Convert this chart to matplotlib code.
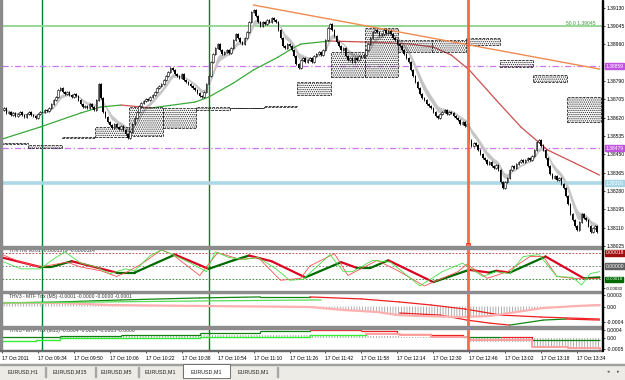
import numpy as np
import pandas as pd
import matplotlib
matplotlib.use("Agg")
import matplotlib.pyplot as plt
from matplotlib.patches import Rectangle
import matplotlib.transforms as mtransforms

plt.rcParams['font.family'] = ['Liberation Sans', 'DejaVu Sans']
plt.rcParams['hatch.linewidth'] = 0.6

W, H = 625, 380

# EURUSD M1 closes, 17 Oct 2011, first bar 09:18
closes = [
    1.38656, 1.38665, 1.38642, 1.38647, 1.38633, 1.38642, 1.38628, 1.38637, 1.38647, 1.38633,
    1.38624, 1.38637, 1.38647, 1.38633, 1.38628, 1.38619, 1.38637, 1.38647, 1.38647, 1.38656,
    1.38651, 1.38665, 1.38684, 1.38702, 1.38716, 1.38749, 1.38758, 1.38740, 1.38730, 1.38740,
    1.38726, 1.38716, 1.38730, 1.38721, 1.38702, 1.38684, 1.38670, 1.38675, 1.38665, 1.38684,
    1.38670, 1.38656, 1.38702, 1.38777, 1.38712, 1.38647, 1.38624, 1.38600, 1.38586, 1.38573,
    1.38591, 1.38577, 1.38568, 1.38582, 1.38563, 1.38545, 1.38526, 1.38554, 1.38591, 1.38619,
    1.38647, 1.38675, 1.38689, 1.38698, 1.38707, 1.38702, 1.38716, 1.38726, 1.38740, 1.38758,
    1.38767, 1.38777, 1.38795, 1.38814, 1.38832, 1.38851, 1.38842, 1.38823, 1.38814, 1.38805,
    1.38823, 1.38795, 1.38786, 1.38777, 1.38767, 1.38758, 1.38749, 1.38735, 1.38721, 1.38716,
    1.38740, 1.38777, 1.38814, 1.38879, 1.38916, 1.38944, 1.38962, 1.38934, 1.38916, 1.38925,
    1.38934, 1.38921, 1.38944, 1.38981, 1.39009, 1.38990, 1.38972, 1.38962, 1.38990, 1.39018,
    1.39064, 1.39111, 1.39120, 1.39092, 1.39064, 1.39046, 1.39064, 1.39055, 1.39074, 1.39064,
    1.39083, 1.39074, 1.39064, 1.39027, 1.38990, 1.38953, 1.38944, 1.38962, 1.38953, 1.38934,
    1.38907, 1.38869, 1.38851, 1.38888, 1.38897, 1.38879, 1.38888, 1.38897, 1.38879, 1.38907,
    1.38916, 1.38925, 1.38911, 1.38934, 1.38981, 1.39037, 1.39055, 1.39027, 1.38999, 1.38972,
    1.38953, 1.38934, 1.38944, 1.38907, 1.38888, 1.38897, 1.38879, 1.38897, 1.38888, 1.38907,
    1.38902, 1.38911, 1.38934, 1.38962, 1.38990, 1.39018, 1.39027, 1.39018, 1.39004, 1.39009,
    1.39027, 1.39013, 1.39023, 1.39009, 1.38990, 1.38981, 1.38962, 1.38953, 1.38934, 1.38916,
    1.38897, 1.38879, 1.38842, 1.38814, 1.38786, 1.38758, 1.38730, 1.38712, 1.38702, 1.38684,
    1.38675, 1.38665, 1.38647, 1.38628, 1.38619, 1.38637, 1.38647, 1.38656, 1.38637, 1.38647,
    1.38642, 1.38628, 1.38619, 1.38610, 1.38591, 1.38600, 1.38582, 1.38591, 1.38517, 1.38490,
    1.38503, 1.38494, 1.38470, 1.38452, 1.38433, 1.38424, 1.38405, 1.38415, 1.38396, 1.38387,
    1.38401, 1.38378, 1.38322, 1.38294, 1.38322, 1.38341, 1.38378, 1.38396, 1.38387, 1.38405,
    1.38415, 1.38424, 1.38415, 1.38424, 1.38433, 1.38424, 1.38443, 1.38470, 1.38508, 1.38517,
    1.38490, 1.38470, 1.38433, 1.38396, 1.38359, 1.38341, 1.38350, 1.38331, 1.38341, 1.38313,
    1.38294, 1.38257, 1.38220, 1.38173, 1.38146, 1.38118, 1.38099, 1.38136, 1.38173, 1.38155,
    1.38146, 1.38118, 1.38090, 1.38109, 1.38118, 1.38090,
]

# M15 candles drawn as dotted boxes (first one starts 3 bars before the chart)
m15_start = [-3, 12, 27, 42, 57, 72, 87, 102, 117, 132, 147, 162, 177, 192, 207, 222, 237, 252]
m15_top = [1.38503, 1.38494, 1.38531, 1.38577, 1.38670, 1.38665, 1.38670, 1.38665, 1.38675,
           1.38786, 1.38925, 1.39037, 1.38981, 1.38981, 1.38990, 1.38888, 1.38818, 1.38716]
m15_bot = [1.38500, 1.38480, 1.38526, 1.38531, 1.38535, 1.38573, 1.38656, 1.38663, 1.38670,
           1.38726, 1.38809, 1.38809, 1.38925, 1.38925, 1.38958, 1.38856, 1.38786, 1.38600]

# slow moving average
ma_i = [0, 17, 35, 44, 53, 62, 66, 86, 92, 103, 112, 123, 128, 133, 146, 160, 173, 182, 192,
        200, 208, 220, 231, 243, 255, 266]
ma_v = [1.38521, 1.38577, 1.38642, 1.38670, 1.38679, 1.38670, 1.38665, 1.38693, 1.38716,
        1.38781, 1.38842, 1.38902, 1.38934, 1.38962, 1.38976, 1.38972, 1.38967, 1.38962,
        1.38948, 1.38911, 1.38842, 1.38702, 1.38577, 1.38470, 1.38410, 1.38354]

trend_i = [112, 266]
trend_v = [1.39143, 1.38846]

fib_level = 1.39045
purple_levels = [1.38859, 1.38479]
blue_level = 1.38316
price_ticks = [1.39130, 1.39045, 1.38960, 1.38790, 1.38705, 1.38620, 1.38535,
               1.38450, 1.38365, 1.38280, 1.38195, 1.38110, 1.38025]

# THVTrix (units of 1e-5)
trix_i = [0, 17, 22, 31, 51, 59, 77, 92, 103, 110, 120, 135, 151, 158, 164, 172, 192, 208,
          217, 220, 226, 242, 259, 266]
trix_v = [11.6, -1.3, -1.3, 6.5, -9.0, -9.0, 15.5, -3.9, 7.7, 14.2, 6.5, -15.5, 5.2, -2.6,
          -2.6, 7.7, -21.9, -5.2, -9.0, -6.5, -9.0, 12.9, -16.8, -15.5]
fast_i = [0, 8.5, 17, 24, 28, 35, 42, 48, 55, 59, 66, 71, 77, 84, 91, 95, 101, 108, 114, 122,
          128, 134, 140, 146, 152, 156, 165, 173, 186, 196, 205, 214, 220, 226, 232, 239, 247,
          254, 258, 262, 266]
fast_v = [6.5, -3.9, -3.9, 11.6, 19.4, 3.9, -1.3, -10.3, -3.9, -6.5, 14.2, 21.9, 14.2, 3.9,
          -7.7, 19.4, 11.6, 9.0, 11.6, -3.9, -19.4, -18.1, -1.3, 15.5, -7.7, -7.7, 7.7, 5.2,
          -27.1, -7.7, 3.9, -14.2, -7.7, -10.3, 12.9, 15.5, -14.2, -15.5, -25.8, -10.3, -7.7]
sig_i = [0, 8.5, 17, 29, 35, 44, 51, 56, 62, 71, 76, 88, 96, 106, 114, 124, 133, 137, 148, 154,
         167, 177, 188, 203, 207, 216, 225, 235, 241, 247, 254, 266]
sig_v = [15.5, 5.2, -1.3, 5.2, -1.3, -6.5, -14.2, -7.7, 2.6, 21.9, 15.5, -12.9, 18.1, 9.0,
         11.6, -19.4, -16.8, 0.0, 16.8, -12.9, 7.7, -7.7, -27.1, -7.7, 2.6, -16.8, -7.7, 12.9,
         12.9, -14.2, -16.8, -16.8]

# MTF Trix M5 (units of 1e-4)
m5a_i = [0, 26, 53, 88, 115, 137, 160, 177, 191, 206, 222, 240, 266]
m5a_v = [0.93, 1.19, 1.71, 2.23, 2.49, 2.49, 1.97, 1.19, 0.41, -0.62, -2.18, -2.69, -3.21]
m5b_i = [0, 26, 48, 88, 137, 152, 167, 176, 186, 205, 217, 229, 241, 256, 266]
m5b_v = [0.93, 0.93, 0.41, 0.16, -0.10, -0.88, -1.40, -2.18, -2.43, -2.69, -2.43, -1.40,
         -0.36, 0.16, 0.41]
m5c_i = [177, 195, 207, 217, 226, 241, 251, 266]
m5c_v = [-1.66, -2.18, -3.47, -4.25, -4.77, -3.47, -3.21, -3.47]
m5d_i = [0, 44, 88, 142]
m5d_v = [0.93, 1.19, 1.45, 1.71]

# MTF Trix M15 (units of 1e-4)
m15e_i = [0, 26, 53, 88, 115, 137, 160, 176, 191, 205, 222, 236, 266]
m15e_v = [0.66, 1.14, 1.61, 2.56, 3.51, 3.98, 3.51, 2.09, 1.61, 0.66, 0.66, -0.76, -0.76]
m15f_i = [0, 15, 26, 88, 137, 162]
m15f_v = [-1.23, -0.76, 0.19, 0.66, 1.61, 2.09]
m15g_i = [162, 177, 191, 208, 236, 252, 266]
m15g_v = [2.09, 1.61, 0.66, -0.76, -4.08, -4.55, -5.02]
m15h_i = [0, 26, 88, 137, 160, 177, 205, 208, 236, 252, 266]
m15h_v = [0.19, 1.14, 1.61, 1.61, 1.14, 0.66, 0.19, -1.71, -3.60, -5.02, -5.02]

time_ticks = [0, 16, 32, 48, 64, 80, 96, 112, 128, 144, 160, 176, 192, 208, 224, 240, 256]
time_labels = ["17 Oct 2011", "17 Oct 09:34", "17 Oct 09:50", "17 Oct 10:06", "17 Oct 10:22",
               "17 Oct 10:38", "17 Oct 10:54", "17 Oct 11:10", "17 Oct 11:26", "17 Oct 11:42",
               "17 Oct 11:58", "17 Oct 12:14", "17 Oct 12:30", "17 Oct 12:46", "17 Oct 13:02",
               "17 Oct 13:18", "17 Oct 13:34"]
green_vlines = [18, 92]
orange_vline = 207.5
tabs = ["EURUSD,H1", "EURUSD,M15", "EURUSD,M5", "EURUSD,M1", "EURUSD,M1", "EURUSD,M1"]
tab_edges = [0, 45, 95, 138, 183, 230, 277]
active_tab = 4

FS = 3.6


def box(x0, y0, x1, y1):
    return [x0 / W, 1 - y1 / H, (x1 - x0) / W, (y1 - y0) / H]


def frect(x0, y0, x1, y1, **kw):
    fig.add_artist(Rectangle((x0 / W, 1 - y1 / H), (x1 - x0) / W, (y1 - y0) / H,
                             transform=fig.transFigure, **kw))


def slope_line(a, xs, ys, up, down, lw, step=False):
    for k in range(len(xs) - 1):
        c = up if ys[k + 1] >= ys[k] else down
        if step:
            a.plot([xs[k], xs[k + 1], xs[k + 1]], [ys[k], ys[k], ys[k + 1]], color=c, lw=lw,
                   solid_capstyle='butt')
        else:
            a.plot(xs[k:k + 2], ys[k:k + 2], color=c, lw=lw, solid_capstyle='round')


def right_box(a, y, text, bg, fg='white', fs=FS):
    tr = mtransforms.blended_transform_factory(a.transAxes, a.transData)
    a.text(1.006, y, text, transform=tr, fontsize=fs, color=fg, va='center', ha='left',
           bbox=dict(boxstyle='square,pad=0.12', fc=bg, ec=bg), clip_on=False, zorder=10)


fig = plt.figure(figsize=(W / 100, H / 100), dpi=100)
ax = fig.add_axes(box(2, 0, 602, 246))
ax1 = fig.add_axes(box(2, 248, 602, 291), sharex=ax)
ax2 = fig.add_axes(box(2, 293, 602, 326), sharex=ax)
ax3 = fig.add_axes(box(2, 328, 602, 350), sharex=ax)

for a in (ax, ax1, ax2, ax3):
    for s in a.spines.values():
        s.set_visible(False)
    a.yaxis.tick_right()
    a.tick_params(axis='y', labelsize=FS, length=2, width=0.5, pad=1.2, colors='black')
    a.tick_params(axis='x', bottom=False, labelbottom=False)
    for v in green_vlines:
        a.axvline(v, color='#00802b', lw=1, zorder=1)
    a.axvline(orange_vline, color='#ff6a3c', lw=2, zorder=6)

ax.set_xlim(0.44, 267.1)

# ---- main price panel
idx = np.arange(len(closes))
c = np.array(closes)
o = np.r_[c[0], c[:-1]]
wick = 0.00006

ema_fast = pd.Series(c).ewm(span=5).mean().values
ema_slow = pd.Series(c).ewm(span=8).mean().values
ax.fill_between(idx, ema_fast, ema_slow, color='#c4c4c4', lw=0, zorder=2)
ax.plot(idx, ema_slow, color='#c8c8c8', lw=0.9, zorder=2)

for k in range(len(m15_start)):
    x0 = m15_start[k] - 0.5
    ax.add_patch(Rectangle((x0, m15_bot[k]), 15, m15_top[k] - m15_bot[k], fill=False,
                           hatch='........', edgecolor='#2a2a2a', lw=0.6, ls=(0, (3, 1.5)),
                           zorder=3))

ax.vlines(idx, np.minimum(o, c) - wick, np.maximum(o, c) + wick, color='black', lw=0.6, zorder=4)
bull = c >= o
ax.bar(idx[bull], np.maximum(c - o, 0.00002)[bull], bottom=o[bull], width=0.7,
       color='white', edgecolor='black', lw=0.4, zorder=5)
ax.bar(idx[~bull], (o - c)[~bull], bottom=c[~bull], width=0.7, color='black', lw=0, zorder=5)

slope_line(ax, ma_i, ma_v, '#3aaa3a', '#cc5050', 0.9)
ax.plot(trend_i, trend_v, color='#f08c50', lw=1.0, zorder=3)

ax.axhline(fib_level, color='#8fd48f', lw=1.3, zorder=1)
ax.text(264, fib_level + 0.00003, "50.0 1.39045", fontsize=FS, color='#3a9a3a',
        ha='right', va='bottom')
for lv in purple_levels:
    ax.axhline(lv, color='#cc77ee', lw=0.9, dashes=(5, 2, 1, 2), zorder=1)
ax.axhline(blue_level, color='#add8e6', lw=2.6, zorder=1)

ax.set_ylim(1.38025, 1.391664)
ax.set_yticks(price_ticks)
ax.set_yticklabels([f"{t:.5f}" for t in price_ticks])
right_box(ax, purple_levels[0], "1.38859", '#c054e0')
right_box(ax, purple_levels[1], "1.38479", '#c054e0')
right_box(ax, blue_level, "1.38316", '#a6d6e6')
ax.plot([orange_vline], [1.38025 + 0.00004], marker='s', ms=3, mfc='none', mec='#e0301e',
        mew=0.6, clip_on=False, zorder=7)

# ---- THVTrix panel
s5 = 1e-5
ax1.set_ylim(-0.00034, 0.000245)
ax1.axhline(0.00018, color='#b03030', lw=0.6, ls=(0, (2, 2)))
ax1.axhline(0.0, color='#707070', lw=0.6, ls=(0, (2, 2)))
ax1.axhline(-0.00018, color='#2a7a2a', lw=0.6, ls=(0, (2, 2)))
ax1.plot(sig_i, np.array(sig_v) * s5, color='#ff5050', lw=0.6, zorder=3)
ax1.plot(fast_i, np.array(fast_v) * s5, color='#44e044', lw=0.6, zorder=3)
slope_line(ax1, trix_i, list(np.array(trix_v) * s5), '#006a00', '#dd0022', 1.6)
ax1.set_yticks([-0.00030])
ax1.set_yticklabels(["-0.00030"])
ax1.tick_params(axis='y', labelsize=3.2, pad=0.8)
right_box(ax1, 0.00018, "0.00018", '#a01010')
right_box(ax1, 0.0, "0.00000", '#606060')
right_box(ax1, -0.00018, "-0.00018", '#006a00', fs=3.2)
ax1.text(3, 0.000215, "THVTrix v6.01 -0.0001579 -0.0000524", fontsize=FS,
         color='#333333', va='center')

# ---- MTF Trix M5 panel
s4 = 1e-4
ax2.set_ylim(-0.0005, 0.00035)
bi = np.array(m5b_i)
bv = np.array(m5b_v) * s4
ax2.fill_between(bi, 0, bv, facecolor='none', edgecolor='#a0a0a0', hatch='||||||', lw=0,
                 zorder=2)
ax2.plot(m5b_i, bv, color='#ffb0b0', lw=1.6, zorder=3)
ax2.plot(m5d_i, np.array(m5d_v) * s4, color='#55dd55', lw=0.9, zorder=3)
slope_line(ax2, m5a_i, list(np.array(m5a_v) * s4), '#118811', '#ee2020', 0.9)
slope_line(ax2, m5c_i, list(np.array(m5c_v) * s4), '#118811', '#ee2020', 0.9)
ax2.set_yticks([0.0003, 0.0, -0.0004])
ax2.set_yticklabels(["0.0003", "0.00", "-0.0004"])
ax2.text(3, 0.00026, "THV3 - MTF Trix (M5) -0.0001 -0.0000 -0.0000 -0.0001",
         fontsize=FS, color='#333333', va='center')

# ---- MTF Trix M15 panel
ax3.set_ylim(-0.00055, 0.000495)
hv = np.array(m15h_v) * s4
ax3.fill_between(m15h_i, 0, hv, step='post', facecolor='none', edgecolor='#a0a0a0',
                 hatch='||||||', lw=0, zorder=2)
ax3.step(m15f_i, np.array(m15f_v) * s4, where='post', color='#33ee33', lw=1.0, zorder=3)
ax3.step(m15g_i, np.array(m15g_v) * s4, where='post', color='#ffa0a0', lw=1.4, zorder=3)
slope_line(ax3, m15e_i, list(np.array(m15e_v) * s4), '#108010', '#ee2020', 0.9, step=True)
ax3.set_yticks([0.0004, 0.0, -0.0005])
ax3.set_yticklabels(["0.0004", "0.00", "-0.0005"])
ax3.text(3, 0.00036, "THV3 - MTF Trix (M15) -0.0004 -0.0004 -0.0005 -0.0006",
         fontsize=FS, color='#333333', va='center')
ax3.tick_params(axis='x', bottom=True, labelbottom=True, length=2, width=0.5, pad=2.5,
                labelsize=FS)
ax3.set_xticks(time_ticks)
ax3.set_xticklabels(time_labels, ha='left')

# ---- frame, separators, tabs
frect(0, 0, 2, 351, color='#8a8a8a', zorder=20)
frect(0, 246, 602, 248.5, color='#8c8c8c', zorder=20)
frect(0, 290.5, 602, 293, color='#8c8c8c', zorder=20)
frect(0, 326, 602, 328.5, color='#8c8c8c', zorder=20)
frect(0, 349.6, 602, 351, color='#6a6a6a', zorder=20)
frect(602, 0, 603, 351, color='black', zorder=20)

frect(0, 364, 625, 380, color='#ecebe6', zorder=0)
frect(0, 364, 625, 365, color='#a0a0a0', zorder=1)
for k, name in enumerate(tabs):
    x0, x1 = tab_edges[k], tab_edges[k + 1]
    if k == active_tab:
        frect(x0, 364, x1, 378, facecolor='white', edgecolor='#606060', lw=0.6, zorder=2)
    else:
        frect(x1 - 0.5, 367, x1 + 0.5, 377, color='#a8a8a8', zorder=2)
    fig.text((x0 + x1) / 2 / W, 1 - 371.5 / H, name, fontsize=FS + 0.3, ha='center',
             va='center', color='#222222')
fig.text(608 / W, 1 - 371.5 / H, "\u25c2", fontsize=FS, ha='center', va='center', color='#555')
fig.text(618 / W, 1 - 371.5 / H, "\u25b8", fontsize=FS, ha='center', va='center', color='#555')

fig.savefig("out.png", dpi=100)
